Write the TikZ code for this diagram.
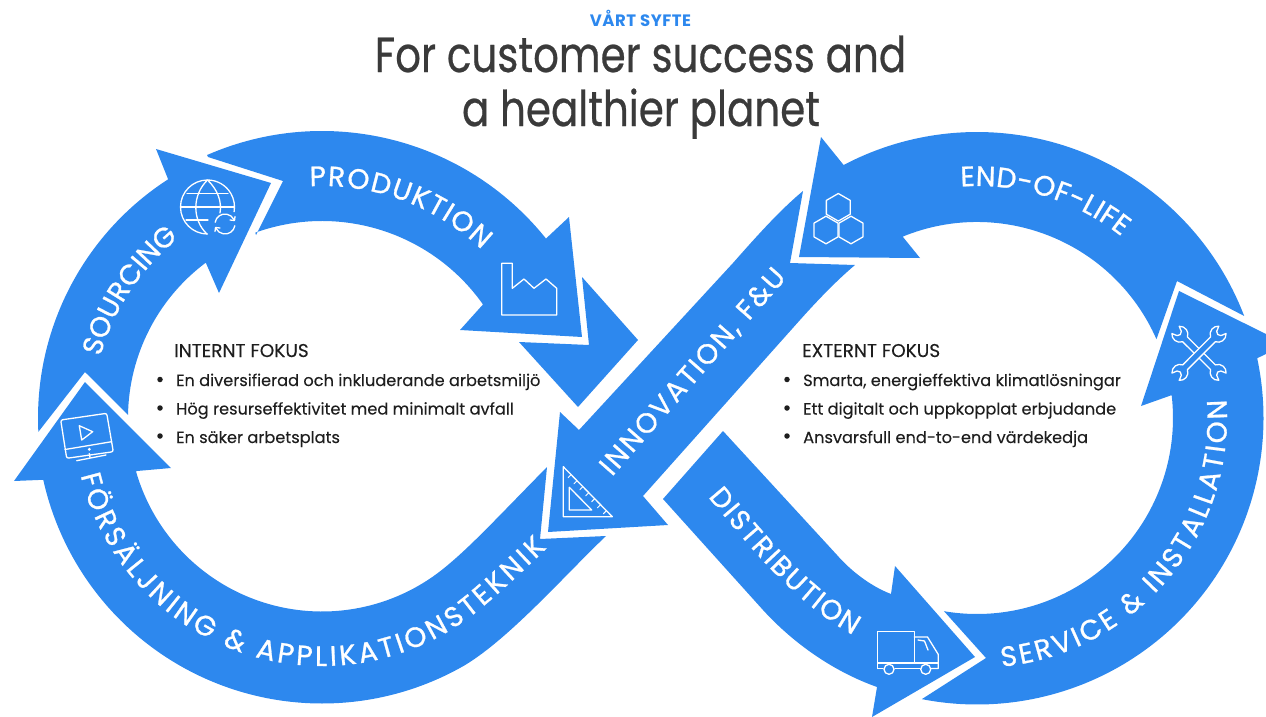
\documentclass[tikz,border=0pt]{standalone}
\usepackage{fontspec}
\usetikzlibrary{decorations.text}
\setmainfont{Poppins}
\newfontfamily\titlefont[FakeStretch=0.82,FakeBold=0.5]{Poppins}
\newfontfamily\bodyfont[FakeBold=0.15]{Poppins}
\newfontfamily\labelfam[FakeBold=0.9]{Poppins}
\newfontfamily\kickerfam[LetterSpace=3,BoldFont={Poppins Bold}]{Poppins}
\definecolor{brandblue}{HTML}{2D88EE}
\definecolor{inkdark}{HTML}{3A3A3A}
\definecolor{inkbody}{HTML}{1E1E1E}
\tikzset{
  band/.style={fill=brandblue,draw=none},
  icon/.style={draw=white,line width=1.3pt,line join=round,line cap=round},
  bullettext/.style={anchor=base west,inner sep=0pt,text=inkbody,font=\bodyfont\fontsize{16.2}{18}\selectfont},
  headtext/.style={anchor=base west,inner sep=0pt,text=inkbody,font=\bodyfont\fontsize{18.5}{20}\selectfont},
  bulletdot/.style={circle,fill=inkbody,draw=none,minimum size=5.5pt,inner sep=0pt},
  curvelabel/.style={postaction={decorate},decoration={text along path,text align={fit to path},text={|\labelfont\color{white}|#1}}}
}
\newcommand{\labelfont}{\labelfam\fontsize{28}{28}\selectfont}
\def\Lc{322,418}
\def\Rc{977,418}
\begin{document}
\begin{tikzpicture}[x=1pt,y=1pt,yscale=-1]
\useasboundingbox (0,0) rectangle (1266,717);
% Sourcing
\path[band] (156,149) -- (271,183) -- (219,293) -- ([shift={(\Lc)}]233.2:194) arc[start angle=233.2,end angle=180.9,radius=194] -- (85,372) -- ([shift={(\Lc)}]177.2:284) arc[start angle=177.2,end angle=237.2,radius=284] -- cycle;
% Produktion
\path[band] (208,157) -- (283,181) -- (256,235) -- ([shift={(\Lc)}]250.2:197) arc[start angle=250.2,end angle=324.8,radius=197] -- (460,330) -- (582,337) -- (569,217) -- ([shift={(\Lc)}]321.3:287) arc[start angle=321.3,end angle=246.4,radius=287] -- cycle;
% centre chevron
\path[band] (582,277) -- (638,340) -- (578,407) -- (519,342) -- (589,345) -- cycle;
% Innovation
\path[band] (560,412) -- (579,430) -- (733,263) .. controls (755,238) and (780,210) .. (803,191) -- (790,263) -- (855,265) .. controls (842,276) and (825,292) .. (800,320) -- (643,496) -- (668,525) -- (548,532) -- cycle;
% End of life
\path[band] (821,137) -- (799,257) -- (920,258) -- (903,237) -- ([shift={(\Rc)}]247.8:196) arc[start angle=247.8,end angle=336.3,radius=196] -- (1177,281) -- ([shift={(\Rc)}]339.1:286) arc[start angle=339.1,end angle=242.2,radius=286] -- cycle;
% Service
\path[band] (1179,291) -- (1266,334) -- (1266,354) -- ([shift={(\Rc)}]-12.05:286.5) arc[start angle=-12.05,end angle=101.1,radius=286.5] -- (986,658) -- ([shift={(\Rc)}]99.7:196) arc[start angle=99.7,end angle=-6.7,radius=196] -- (1141,406) -- cycle;
% Distribution
\path[band] (723,431) -- (663,499) -- (763,610) .. controls (795,645) and (835,672) .. (877,687) -- (872,717) -- (975,657) -- (895,566) -- (891,594) .. controls (870,586) and (850,570) .. (837,555) -- cycle;
% Forsaljning
\path[band] (85,382) -- (171,468) -- (137,471) -- ([shift={(\Lc)}]164:193.5) arc[start angle=164,end angle=50,radius=193.5] .. controls (472,545) and (495,520) .. (547,467) -- (540,539) -- (606,536) .. controls (565,575) and (510,638) .. ([shift={(\Lc)}]60:285.5) arc[start angle=60,end angle=167.5,radius=285.5] -- (14,481) -- cycle;

% Curved labels
\path[curvelabel={SOURCING}] ([shift={(\Lc)}]195.5:230) arc[start angle=195.5,end angle=231,radius=230];
\path[curvelabel={PRODUKTION}] ([shift={(\Lc)}]267:232) arc[start angle=267,end angle=313.5,radius=232];
\path[curvelabel={END-OF-LIFE}] ([shift={(\Rc)}]266:232) arc[start angle=266,end angle=308.5,radius=232];
\path[curvelabel={SERVICE {\&} INSTALLATION}] ([shift={(\Rc)}]84.3:250) arc[start angle=84.3,end angle=-4.2,radius=250];
\path[curvelabel={FÖRSÄLJNING {\&} APPLIKATIONSTEKNIK}] ([shift={(\Lc)}]166.6:248) arc[start angle=166.6,end angle=52,radius=248] .. controls (495,597) and (520,574) .. (547,548);
\path[curvelabel={DISTRIBUTION}] (708,497) .. controls (745,540) and (790,600) .. (853,635);
\path[curvelabel={INNOVATION, F{\&}U}] (612,477) -- (787,278);

% Icons: globe
\draw[icon] ([shift={(207.5,207)}]90:27) arc[start angle=90,end angle=370,radius=27];
\draw[icon] (207.5,180) .. controls (192,195) and (192,220) .. (207,234);
\draw[icon] (207.5,180) .. controls (218,190) and (222,202) .. (220,213);
\draw[icon] (180.5,207) -- (234.5,207) (187,193.3) -- (228,193.3) (186,220) -- (208,220);
\draw[icon] ([shift={(225,224)}]190:10) arc[start angle=190,end angle=335,radius=10];
\draw[icon] ([shift={(225,224)}]10:10) arc[start angle=10,end angle=155,radius=10];
\draw[icon] (235,216.5) -- (234.5,220.5) -- (230,220);
\draw[icon] (215,231.5) -- (215.5,227.5) -- (220,228);
% factory
\draw[icon] (501.7,263.3) -- (512.3,263.3) -- (512.3,288.3) -- (524,279) -- (534,288.3) -- (546,279) -- (556.7,288.3) -- (556.7,315) -- (501.7,315) -- cycle;
% hexagons
\foreach \cx/\cy in {838.3/207.3,826/230,851/230}{
  \draw[icon] ([shift={(\cx,\cy)}]30:13.8) -- ([shift={(\cx,\cy)}]90:13.8) -- ([shift={(\cx,\cy)}]150:13.8) -- ([shift={(\cx,\cy)}]210:13.8) -- ([shift={(\cx,\cy)}]270:13.8) -- ([shift={(\cx,\cy)}]330:13.8) -- cycle;
}
% set square
\draw[icon] (563.3,466.7) -- (563.3,516.7) -- (612.3,516.7) -- cycle;
\draw[icon] (569.3,487.3) -- (569.3,510) -- (591.7,510) -- cycle;
\foreach \t in {0.16,0.28,0.40,0.52,0.64,0.76,0.88}{
  \draw[icon,line width=0.9pt] ({563.3+49*\t},{466.7+50*\t}) -- ++(-3,3);
}
% monitor
\draw[icon,rounded corners=2pt] (60.7,420) -- (106.7,413.3) -- (113.3,451.7) -- (66.7,458.3) -- cycle;
\draw[icon] (65,449.5) -- (111.7,441.7);
\draw[icon] (79.3,425.7) -- (92.7,431.7) -- (81.7,440) -- cycle;
\draw[icon] (89.3,453.5) -- (90,457.3) (76.7,460.7) -- (106,455);
\fill[white] (89.3,449.3) circle (1.6);
% truck
\draw[icon] (877.3,631.7) -- (914.3,631.7) -- (914.3,663) -- (877.3,663) -- cycle;
\draw[icon] (914.3,637) -- (927.5,637) -- (938.3,654.5) -- (938.3,668.5) -- (931.5,668.5);
\draw[icon] (878,668.5) -- (883,668.5) (895,668.5) -- (920,668.5) (877.3,663) -- (877.3,668.5);
\draw[icon] (918,640) -- (924.5,641) -- (928,650);
\draw[icon] (889,669.3) circle (5) (925.7,669.3) circle (5);
\draw[icon] (914.3,663) -- (938.3,663);
% wrenches
\foreach \a in {45,135}{
\begin{scope}[shift={(1199,353.3)},rotate=\a]
\draw[icon,fill=brandblue] (-19.75,-3.4) -- (19.75,-3.4) arc[start angle=-155,end angle=-40,radius=8] -- (28,-3) -- (26.5,0) -- (28,3) -- (33.1,5.1) arc[start angle=40,end angle=155,radius=8] -- (-19.75,3.4) arc[start angle=25,end angle=140,radius=8] -- (-28,3) -- (-26.5,0) -- (-28,-3) -- (-33.1,-5.1) arc[start angle=-140,end angle=-25,radius=8] -- cycle;
\end{scope}
}

% titles
\node[inner sep=0pt,anchor=base,text=brandblue,font=\kickerfam\bfseries\fontsize{16.5}{18}\selectfont] (kicker) at (640.5,27) {VÅRT SYFTE};
\node[inner sep=0pt,anchor=base,text=inkdark,font=\titlefont\fontsize{49.3}{52}\selectfont] (title1) at (640.5,72) {For customer success and};
\node[inner sep=0pt,anchor=base,text=inkdark,font=\titlefont\fontsize{49.3}{52}\selectfont] (title2) at (641,126) {a healthier planet};

% Body text
\node[headtext] (ih) at (174,357) {INTERNT FOKUS};
\node[bullettext] (i1) at (176,386) {En diversifierad och inkluderande arbetsmiljö};
\node[bullettext] (i2) at (176,414.5) {Hög resurseffektivitet med minimalt avfall};
\node[bullettext] (i3) at (176,443) {En säker arbetsplats};
\node[bulletdot] (id1) at (160,379.5) {};
\node[bulletdot] (id2) at (160,408) {};
\node[bulletdot] (id3) at (160,436) {};
\node[headtext] (eh) at (802,357) {EXTERNT FOKUS};
\node[bullettext] (e1) at (803,386) {Smarta, energieffektiva klimatlösningar};
\node[bullettext] (e2) at (803,414.5) {Ett digitalt och uppkopplat erbjudande};
\node[bullettext] (e3) at (803,443) {Ansvarsfull end-to-end värdekedja};
\node[bulletdot] (ed1) at (787,379.5) {};
\node[bulletdot] (ed2) at (787,408) {};
\node[bulletdot] (ed3) at (787,436) {};
\end{tikzpicture}
\end{document}
